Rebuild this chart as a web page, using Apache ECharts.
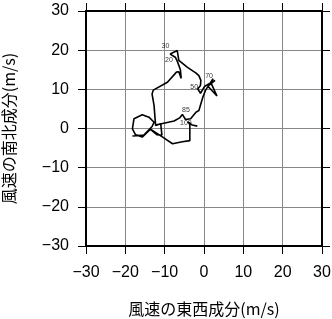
<!DOCTYPE html>
<html>
<head>
<meta charset="utf-8">
<script src="https://cdn.jsdelivr.net/npm/echarts@6/dist/echarts.min.js"></script>
<style>html,body{margin:0;padding:0;background:#fff}#c{width:332px;height:319px}</style>
</head>
<body>
<div id="c"></div>
<script>
// hodograph path: east-west (u) and north-south (v) wind components, m/s
const U = [-12.3, -7.6, -6.2, -5.5, -4.7, -3.4, -2.1, -1.3, -0.3, 0.4, 1.2, 2.3, 1.8, 3.3, 1.0, 2.8, 0.2, -0.9, -1.6, -0.9, -0.8, -1.3, -2.1, -4.2, -6.4, -6.8, -8.6, -7.3, -6.8, -6.0, -5.8, -6.4, -7.0, -9.3, -12.9, -13.2, -12.7, -12.3, -11.0, -10.7, -12.0, -13.6, -15.7, -17.4, -18.2, -17.8, -15.7, -14.0, -12.7, -13.2, -15.3, -18.2, -15.3, -13.6, -10.5, -8.0, -5.5, -3.6, -3.6, -4.2, -3.0, -2.5, -1.7];
const V = [0.9, 1.9, 2.7, 3.6, 2.3, 2.5, 4.1, 4.6, 8.0, 9.8, 11.0, 12.7, 11.6, 8.3, 10.8, 12.3, 10.8, 9.0, 10.1, 11.0, 12.3, 13.5, 14.2, 15.6, 17.4, 19.9, 19.0, 18.2, 17.2, 15.0, 12.8, 14.5, 14.4, 11.8, 9.8, 8.8, 5.9, 0.8, 1.2, -1.7, -1.6, -0.2, -2.2, -1.6, -0.1, 2.5, 3.5, 2.9, 1.6, 0.5, -1.7, -1.9, -1.7, -0.2, -2.2, -3.9, -3.4, -3.1, 1.4, 1.7, 0.9, 1.4, 0.6];
// level labels
const levelNames = ['30', '20', '70', '50', '85', '100'];
const levelU = [-9.8, -8.9, 1.3, -2.5, -4.6, -4.6];
const levelV = [21.0, 17.4, 13.3, 10.6, 4.6, 1.4];
const ticks = [-30, -20, -10, 0, 10, 20, 30];
const xTitle = '風速の東西成分(m/s)';
const yTitle = '風速の南北成分(m/s)';

const chart = echarts.init(document.getElementById('c'));
const fmt = v => (v < 0 ? '\u2212' + Math.abs(v) : String(v));
const tickFont = {fontFamily: 'Liberation Sans', fontSize: 16, color: '#000'};
const nameFont = {fontFamily: "'Noto Sans CJK JP', 'Liberation Sans'", fontSize: 16, color: '#000'};
function axis(pos, main) {
  return {
    type: 'value', position: pos,
    min: ticks[0], max: ticks[ticks.length - 1], interval: 10,
    axisLine: {show: true, onZero: false, lineStyle: {color: '#000', width: 2}},
    axisTick: {show: true, inside: false, length: 8, lineStyle: {color: '#000', width: 1}},
    axisLabel: Object.assign({show: main, margin: pos === 'bottom' ? 19 : 17, formatter: fmt}, tickFont),
    splitLine: {show: main, lineStyle: {color: '#888', width: 1}},
    name: main ? (pos === 'bottom' ? xTitle : yTitle) : '',
    nameLocation: 'middle',
    nameGap: pos === 'bottom' ? 55 : 69,
    nameTextStyle: nameFont
  };
}
const pathData = U.map((u, i) => [u, V[i]]);
const labelData = levelNames.map((n, i) => ({value: [levelU[i], levelV[i]], name: n}));
chart.setOption({
  animation: false,
  grid: {left: 86, right: 10, top: 11, bottom: 73, containLabel: false, outerBoundsMode: 'none'},
  xAxis: [axis('bottom', true), axis('top', false)],
  yAxis: [axis('left', true), axis('right', false)],
  series: [
    {type: 'line', data: pathData, showSymbol: false, symbol: 'none',
     lineStyle: {color: '#000', width: 1.6}, z: 5},
    {type: 'scatter', data: labelData, symbolSize: 0, z: 6,
     label: {show: true, position: 'inside', formatter: p => p.name,
             fontFamily: 'Liberation Sans', fontSize: 7, color: '#000'}}
  ]
});
</script>
</body>
</html>
